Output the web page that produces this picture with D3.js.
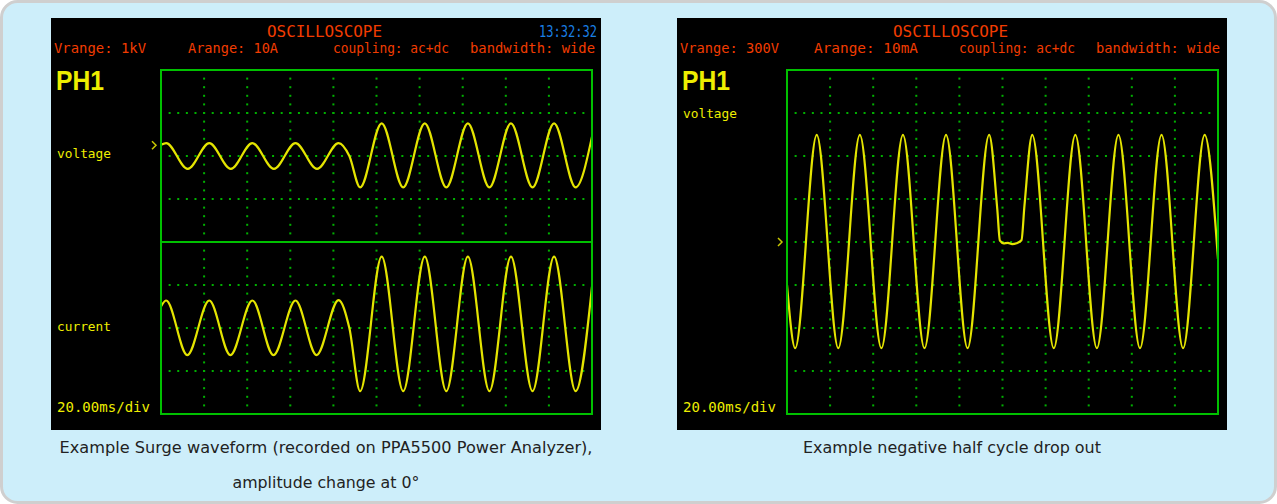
<!DOCTYPE html>
<html><head><meta charset="utf-8">
<script src="https://cdn.jsdelivr.net/npm/d3@7"></script>
<style>html,body{margin:0;padding:0;background:#fff;}svg{display:block}</style>
</head><body><svg id="c" width="1277" height="504"></svg>
<script>
// ---------------- DATA ----------------
const titleText = "OSCILLOSCOPE";
const leftClock = "13:32:32";
const leftSettings = ["Vrange: 1kV", "Arange: 10A", "coupling: ac+dc", "bandwidth: wide"];
const rightSettings = ["Vrange: 300V", "Arange: 10mA", "coupling: ac+dc", "bandwidth: wide"];
const phaseLabel = "PH1";
const timebaseLabel = "20.00ms/div";
const leftChannelLabels = ["voltage", "current"];
const rightChannelLabels = ["voltage"];
const timeTicksMs = [0, 20, 40, 60, 80, 100, 120, 140, 160, 180, 200];
const halfPanelDivTicks = [-2, -1, 0, 1, 2];
const fullPanelDivTicks = [-4, -3, -2, -1, 0, 1, 2, 3, 4];

// left, voltage trace (time ms, value in divisions)
const leftVoltageTime  = [0, 2.4, 12.4, 22.4, 32.4, 42.4, 52.4, 62.4, 72.4, 82.4, 87.4, 92.4, 102.4, 112.4, 122.4, 132.4, 142.4, 152.4, 162.4, 172.4, 182.4, 192.4, 200];
const leftVoltageValue = [0.26, 0.30, -0.30, 0.30, -0.30, 0.30, -0.30, 0.30, -0.30, 0.30, 0.0, -0.73, 0.76, -0.73, 0.76, -0.73, 0.76, -0.73, 0.76, -0.73, 0.76, -0.73, 0.45];
// left, current trace
const leftCurrentTime  = [0, 2.4, 12.2, 22.4, 32.2, 42.4, 52.2, 62.4, 72.2, 82.4, 87.4, 92.4, 102.4, 112.4, 122.4, 132.4, 142.4, 152.4, 162.4, 172.4, 182.4, 192.4, 200];
const leftCurrentValue = [0.50, 0.64, -0.63, 0.64, -0.63, 0.64, -0.63, 0.64, -0.63, 0.65, 0.0, -1.47, 1.66, -1.47, 1.66, -1.47, 1.66, -1.47, 1.66, -1.47, 1.66, -1.47, 0.96];
// right, voltage trace with negative half cycle drop out
const rightVoltageTime  = [0, 3.8, 13.8, 23.8, 33.8, 43.8, 53.8, 63.8, 73.8, 83.8, 93.8, 97.6, 98.8, 100.5, 102.5, 104.5, 106.5, 108.8, 110.2, 113.8, 123.8, 133.8, 143.8, 153.8, 163.8, 173.8, 183.8, 193.8, 200];
const rightVoltageValue = [-1.0, -2.47, 2.49, -2.47, 2.49, -2.47, 2.49, -2.47, 2.49, -2.47, 2.49, 0.75, 0.03, -0.03, -0.02, -0.05, -0.03, 0.04, 0.85, 2.49, -2.47, 2.49, -2.47, 2.49, -2.47, 2.49, -2.47, 2.49, -0.4];
const leftMarkerLevel = 0.25;   // voltage offset marker ">" (div)
const rightMarkerLevel = 0;

const captionsLeft = ["Example Surge waveform (recorded on PPA5500 Power Analyzer),", "amplitude change at 0°"];
const captionsRight = ["Example negative half cycle drop out"];

// ---------------- STYLE ----------------
const C = {
  bg: "#cdeefa", border: "#cfcfcf", screen: "#000000",
  red: "#f23c00", blue: "#1a7fe4", yellow: "#eeee00", trace: "#e4e400",
  frame: "#00c000", dot: "#00b000", marker: "#c8c800", caption: "#222222"
};
const mono = "'DejaVu Sans Mono', 'Liberation Mono', monospace";

const svg = d3.select("#c");
svg.append("rect").attr("x", 1.5).attr("y", 1.5).attr("width", 1274).attr("height", 501)
  .attr("rx", 16).attr("fill", C.bg).attr("stroke", C.border).attr("stroke-width", 3);

const defs = svg.append("defs");

function drawScreen(ox, cfg) {
  const g = svg.append("g").attr("transform", `translate(${ox},0)`);
  g.append("rect").attr("x", 51).attr("y", 18).attr("width", 550).attr("height", 412).attr("fill", C.screen);

  // header
  g.append("text").attr("x", 324.5).attr("y", 37).attr("text-anchor", "middle")
    .attr("font-family", mono).attr("font-size", 16).attr("fill", C.red)
    .attr("textLength", 115).attr("lengthAdjust", "spacingAndGlyphs").text(titleText);
  if (cfg.clock) {
    g.append("text").attr("x", 597).attr("y", 37).attr("text-anchor", "end")
      .attr("font-family", mono).attr("font-size", 15).attr("fill", C.blue)
      .attr("textLength", 58).attr("lengthAdjust", "spacingAndGlyphs").text(cfg.clock);
  }
  const setX = [54, 188, 333, 470];
  cfg.settings.forEach((s, i) => {
    g.append("text").attr("x", setX[i]).attr("y", 53)
      .attr("font-family", mono).attr("font-size", 14).attr("fill", C.red)
      .attr("textLength", cfg.settingWidths[i]).attr("lengthAdjust", "spacingAndGlyphs").text(s);
  });
  g.append("text").attr("x", 56).attr("y", 90)
    .attr("font-family", "'Liberation Sans', Arial, sans-serif").attr("font-weight", "bold")
    .attr("font-size", 28).attr("fill", C.yellow)
    .attr("textLength", 48).attr("lengthAdjust", "spacingAndGlyphs").text(phaseLabel);
  g.append("text").attr("x", 57).attr("y", 412)
    .attr("font-family", mono).attr("font-size", 14).attr("fill", C.yellow)
    .attr("textLength", 93).attr("lengthAdjust", "spacingAndGlyphs").text(timebaseLabel);

  const x = d3.scaleLinear().domain([0, 200]).range([161, 592]);
  const tStep = (timeTicksMs[1] - timeTicksMs[0]) / 5;

  cfg.panels.forEach((p, pi) => {
    const y = d3.scaleLinear().domain(d3.extent(p.ticks)).range([p.bottom, p.top]);
    const dots = g.append("g");
    const vMin = d3.min(p.ticks), vMax = d3.max(p.ticks);
    const vDots = d3.range(1, (vMax - vMin) * 5).map(k => vMin + k * 0.2);
    timeTicksMs.slice(1, -1).forEach(t => {
      vDots.forEach(v => dots.append("rect").attr("x", x(t) - 1).attr("y", y(v) - 1)
        .attr("width", 2).attr("height", 2).attr("fill", C.dot));
    });
    const tDots = d3.range(1, 50).map(k => k * tStep);
    p.ticks.slice(1, -1).forEach(v => {
      tDots.forEach(t => dots.append("rect").attr("x", x(t) - 1).attr("y", y(v) - 1)
        .attr("width", 2).attr("height", 2).attr("fill", C.dot));
    });
    const clipId = `clip${ox}_${pi}`;
    defs.append("clipPath").attr("id", clipId).append("rect")
      .attr("x", x(0)).attr("y", p.top).attr("width", x(200) - x(0)).attr("height", p.bottom - p.top);
    const pts = p.time.map((t, i) => [t, p.value[i]]);
    const line = d3.line().x(d => x(d[0])).y(d => y(d[1])).curve(d3.curveMonotoneX);
    g.append("path").attr("d", line(pts)).attr("clip-path", `url(#${clipId})`)
      .attr("fill", "none").attr("stroke", C.trace).attr("stroke-width", 2.2)
      .attr("stroke-linejoin", "round");
    g.append("text").attr("x", 57).attr("y", p.labelY)
      .attr("font-family", mono).attr("font-size", 13).attr("fill", C.yellow)
      .attr("textLength", 54).attr("lengthAdjust", "spacingAndGlyphs").text(p.label);
    if (p.marker !== undefined) {
      const my = y(p.marker);
      g.append("path").attr("d", `M${x(0) - 9},${my - 4}L${x(0) - 5},${my}L${x(0) - 9},${my + 4}`)
        .attr("fill", "none").attr("stroke", C.marker).attr("stroke-width", 1.5);
    }
  });

  g.append("rect").attr("x", x(0)).attr("y", 70).attr("width", x(200) - x(0)).attr("height", 344)
    .attr("fill", "none").attr("stroke", C.frame).attr("stroke-width", 2);
  if (cfg.panels.length > 1) {
    g.append("line").attr("x1", x(0)).attr("x2", x(200)).attr("y1", 242).attr("y2", 242)
      .attr("stroke", C.frame).attr("stroke-width", 2);
  }

  cfg.captions.forEach((c, i) => {
    g.append("text").attr("x", 326).attr("y", 453 + i * 35).attr("text-anchor", "middle")
      .attr("font-family", "'DejaVu Sans', Verdana, sans-serif").attr("font-size", 15)
      .attr("textLength", cfg.captionWidths[i]).attr("lengthAdjust", "spacingAndGlyphs")
      .attr("fill", C.caption).text(c);
  });
}

drawScreen(0, {
  clock: leftClock,
  settings: leftSettings, settingWidths: [92, 90, 116, 125],
  captions: captionsLeft, captionWidths: [533, 187],
  panels: [
    { top: 70, bottom: 242, ticks: halfPanelDivTicks, time: leftVoltageTime, value: leftVoltageValue, label: leftChannelLabels[0], labelY: 158, marker: leftMarkerLevel },
    { top: 242, bottom: 414, ticks: halfPanelDivTicks, time: leftCurrentTime, value: leftCurrentValue, label: leftChannelLabels[1], labelY: 331 }
  ]
});
drawScreen(626, {
  clock: null,
  settings: rightSettings, settingWidths: [99, 104, 116, 124],
  captions: captionsRight, captionWidths: [298],
  panels: [
    { top: 70, bottom: 414, ticks: fullPanelDivTicks, time: rightVoltageTime, value: rightVoltageValue, label: rightChannelLabels[0], labelY: 118, marker: rightMarkerLevel }
  ]
});
</script></body></html>
